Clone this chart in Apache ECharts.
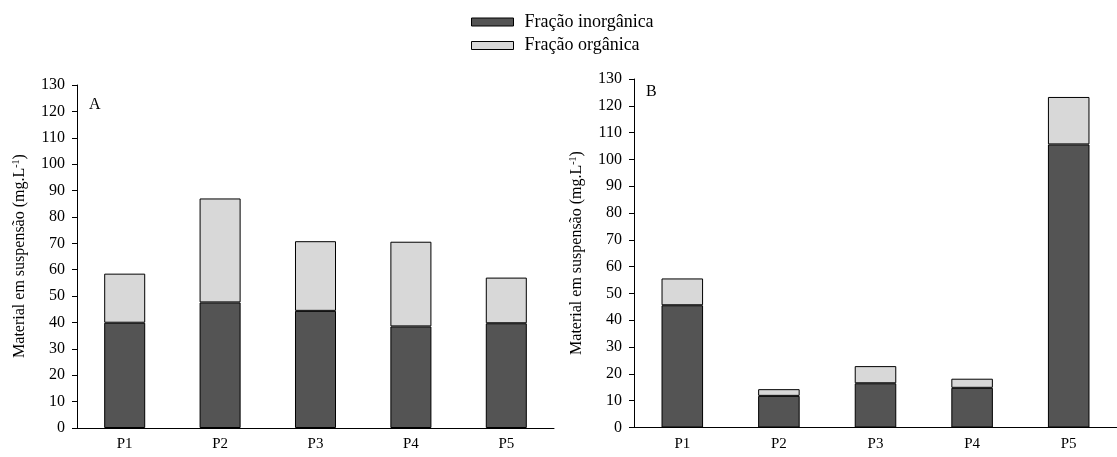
<!DOCTYPE html>
<html>
<head>
<meta charset="utf-8">
<script src="https://cdn.jsdelivr.net/npm/echarts@6/dist/echarts.min.js"></script>
<style>
  html, body { margin: 0; padding: 0; background: #ffffff; }
  #chart { width: 1117px; height: 457px; }
</style>
</head>
<body>
<div id="chart"></div>
<script>
// Sampling points
const categories = ['P1', 'P2', 'P3', 'P4', 'P5'];
const yTicks = [0, 130, 10]; // min, max, step

// Panel A (mg/L)
const inorganicA = [39.9, 47.6, 44.4, 38.5, 39.7];
const organicA   = [18.6, 39.4, 26.4, 32.1, 17.3];

// Panel B (mg/L)
const inorganicB = [45.6, 11.8, 16.5, 14.8, 105.6];
const organicB   = [10.0, 2.5, 6.4, 3.4, 17.7];

const seriesNames = ['Fração inorgânica', 'Fração orgânica'];
const panelLetters = ['A', 'B'];
const yTitle = 'Material em suspensão (mg.L{s|-1})';

const FONT = '"Liberation Serif", "DejaVu Serif", serif';
const DARK = '#545454';
const LIGHT = '#d8d8d8';

const chart = echarts.init(document.getElementById('chart'), null, { renderer: 'canvas' });

function xAxisFor(gridIndex) {
  return {
    type: 'category', gridIndex, data: categories, boundaryGap: true,
    axisLine: { lineStyle: { color: '#000', width: 1 } },
    axisTick: { alignWithLabel: true, length: 5, lineStyle: { color: '#000' } },
    axisLabel: { color: '#000', fontFamily: FONT, fontSize: 15, margin: 9 }
  };
}
function yAxisFor(gridIndex) {
  return {
    type: 'value', gridIndex, min: yTicks[0], max: yTicks[1], interval: yTicks[2],
    axisLine: { show: true, lineStyle: { color: '#000', width: 1 } },
    axisTick: { show: true, length: 5, lineStyle: { color: '#000' } },
    axisLabel: { color: '#000', fontFamily: FONT, fontSize: 16, margin: 12 },
    splitLine: { show: false }
  };
}
function barSeries(name, data, idx, color) {
  return {
    name, type: 'bar', stack: 'panel' + idx, xAxisIndex: idx, yAxisIndex: idx,
    data, barWidth: '43%',
    itemStyle: { color, borderColor: '#000', borderWidth: 1 },
    emphasis: { disabled: true }
  };
}
function titleText(x, y) {
  return {
    type: 'text', x, y, rotation: Math.PI / 2,
    style: {
      text: yTitle, fill: '#000', font: '16px ' + FONT,
      textAlign: 'center', textVerticalAlign: 'middle',
      rich: { s: { fontSize: 10, fontFamily: FONT, verticalAlign: 'top', padding: [0, 0, 8, 0] } }
    }
  };
}

chart.setOption({
  animation: false,
  legend: {
    orient: 'vertical', left: 466, top: 8,
    data: seriesNames,
    icon: 'rect', itemWidth: 42, itemHeight: 8, itemGap: 5.5,
    itemStyle: { borderColor: '#000', borderWidth: 1 },
    textStyle: { color: '#000', fontFamily: FONT, fontSize: 18, lineHeight: 18, padding: [0, 0, 0, 6] }
  },
  grid: [
    { left: 77, top: 85, width: 477, height: 343 },
    { left: 634, top: 79, width: 486, height: 348.5 }
  ],
  xAxis: [xAxisFor(0), xAxisFor(1)],
  yAxis: [yAxisFor(0), yAxisFor(1)],
  series: [
    barSeries(seriesNames[0], inorganicA, 0, DARK),
    barSeries(seriesNames[1], organicA, 0, LIGHT),
    barSeries(seriesNames[0], inorganicB, 1, DARK),
    barSeries(seriesNames[1], organicB, 1, LIGHT)
  ],
  graphic: [
    { type: 'text', x: 89, y: 97, style: { text: panelLetters[0], fill: '#000', font: '16px ' + FONT } },
    { type: 'text', x: 646, y: 84, style: { text: panelLetters[1], fill: '#000', font: '16px ' + FONT } },
    titleText(20, 256),
    titleText(577, 253)
  ]
});
</script>
</body>
</html>
